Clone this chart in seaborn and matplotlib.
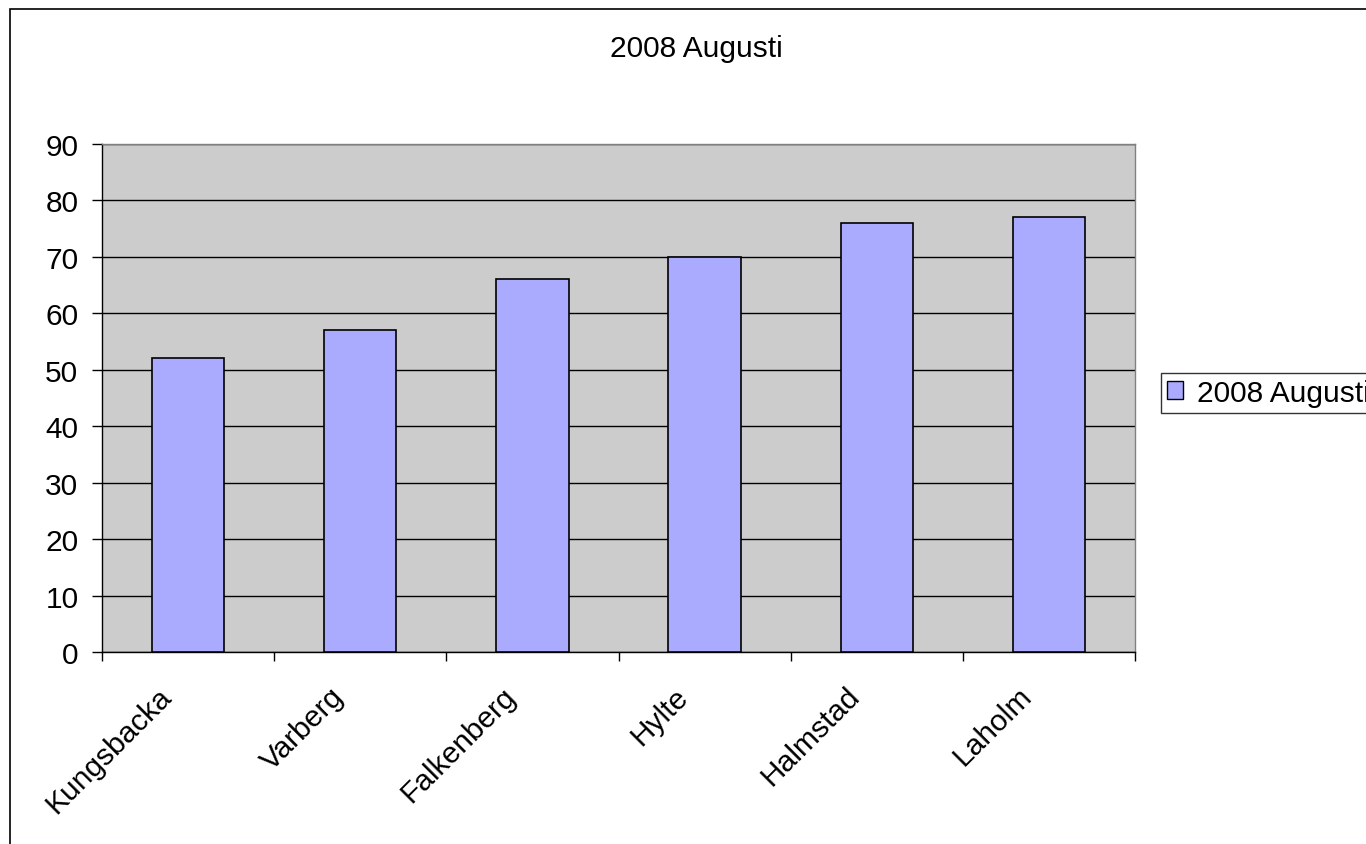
import matplotlib
matplotlib.use("Agg")
import matplotlib.pyplot as plt
import matplotlib.transforms as mtransforms
import seaborn as sns
import pandas as pd
from matplotlib.patches import Rectangle

categories = ["Kungsbacka", "Varberg", "Falkenberg", "Hylte", "Halmstad", "Laholm"]
values = [52, 57, 66, 70, 76, 77]
series_name = "2008 Augusti"
title = "2008 Augusti"
yticks = [0, 10, 20, 30, 40, 50, 60, 70, 80, 90]

sns.set_theme(style="white")
plt.rcParams['font.family'] = ['Liberation Sans', 'DejaVu Sans']
plt.rcParams['text.color'] = 'black'
plt.rcParams['xtick.color'] = 'black'
plt.rcParams['ytick.color'] = 'black'
plt.rcParams['xtick.labelcolor'] = 'black'
plt.rcParams['ytick.labelcolor'] = 'black'

W, H = 1366, 845
FS = 21.5
fig = plt.figure(figsize=(W / 100, H / 100), dpi=100)
ax = fig.add_axes([102 / W, 1 - 653 / H, (1135 - 102) / W, (653 - 145) / H])

df = pd.DataFrame({"cat": categories, "val": values})
sns.barplot(data=df, x="cat", y="val", color="#AAAAFF", saturation=1, width=0.42,
            edgecolor="black", linewidth=1.2, ax=ax, zorder=3)

ax.set_facecolor("#CCCCCC")
ax.set_ylim(0, 90)
ax.set_xlim(-0.5, len(categories) - 0.5)
ax.set_yticks(yticks)
ax.yaxis.grid(True, color="black", linewidth=1.0, zorder=1)
ax.set_axisbelow(True)
ax.set_xlabel("")
ax.set_ylabel("")
for s in ax.spines.values():
    s.set_color("#808080")
    s.set_linewidth(1.0)
ax.spines["bottom"].set_color("black")
ax.spines["left"].set_color("black")

ax.tick_params(axis="y", which="major", length=7, width=1, color="black",
               labelsize=FS, pad=10, left=True)
ax.tick_params(axis="x", which="major", length=0, labelsize=FS, pad=14)
ax.set_xticks(range(len(categories)))
ax.set_xticklabels(categories, rotation=45, ha="right", rotation_mode="anchor")
ax.set_xticks([i - 0.5 for i in range(len(categories) + 1)], minor=True)
ax.tick_params(axis="x", which="minor", length=6.5, width=1, color="black", bottom=True)

offset = mtransforms.ScaledTranslation(-31 / 100, -10 / 100, fig.dpi_scale_trans)
for lab in ax.get_xticklabels():
    lab.set_transform(lab.get_transform() + offset)

fig.text(696 / W, 1 - 49 / H, title, ha="center", va="center", fontsize=FS)

handle = Rectangle((0, 0), 1, 1, facecolor="#AAAAFF", edgecolor="black", linewidth=1)
leg = fig.legend([handle], [series_name], loc="upper left",
                 bbox_to_anchor=(1161 / W, 1 - 374 / H), fontsize=FS,
                 frameon=True, fancybox=False, edgecolor="black",
                 handlelength=0.55, handleheight=0.55, handletextpad=0.45,
                 borderpad=0.2, borderaxespad=0)
leg.get_frame().set_linewidth(1.0)

fig.patches.append(Rectangle((10 / W, -0.1), 1.2, 1 - 10 / H + 0.1,
                             transform=fig.transFigure, fill=False,
                             edgecolor="black", linewidth=1.2, zorder=0))

fig.savefig("out.png", dpi=100, facecolor="white")
